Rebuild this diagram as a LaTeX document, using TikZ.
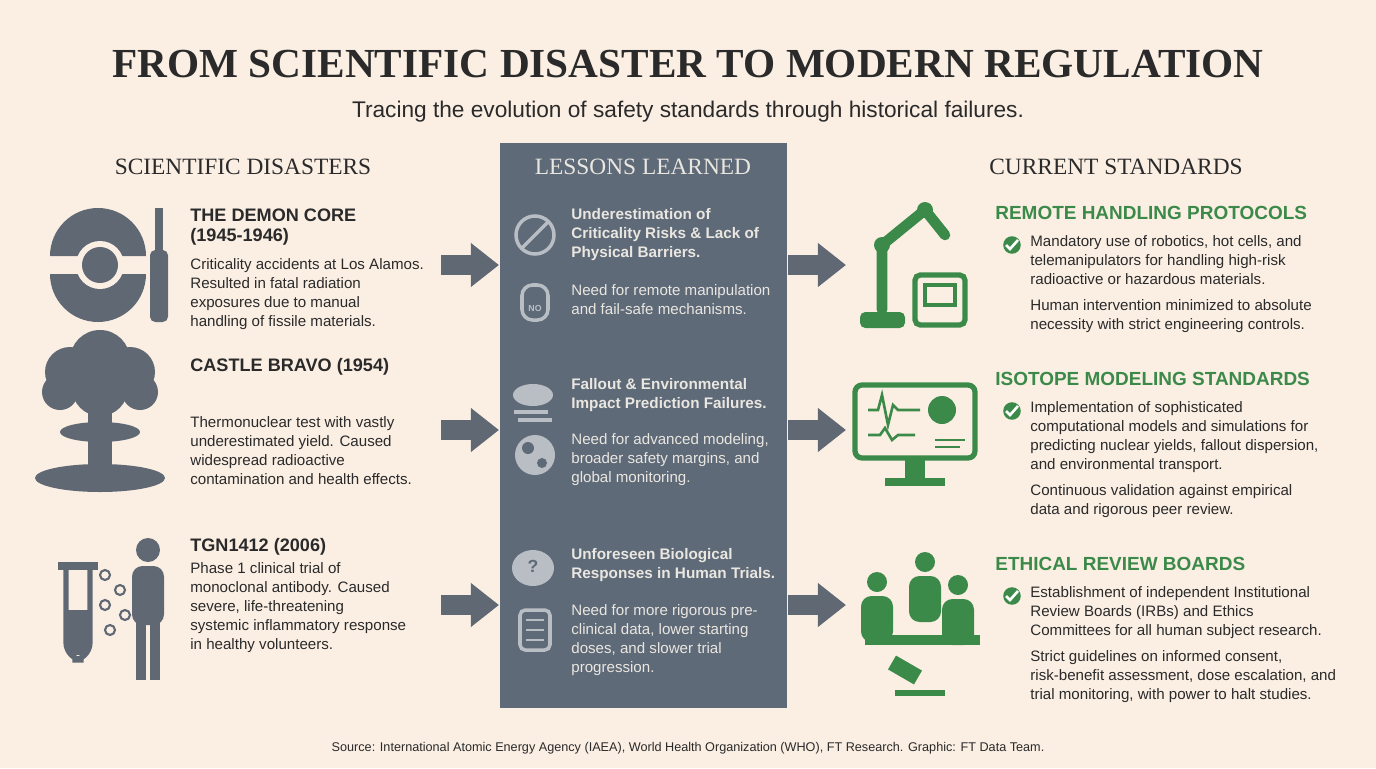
\documentclass[tikz,border=0pt]{standalone}
\usepackage{fontspec}
\setmainfont{Liberation Sans}
\newfontfamily\headfont{Liberation Serif}
\usetikzlibrary{arrows.meta,positioning}
\definecolor{bg}{HTML}{FBEFE4}
\definecolor{iconGrey}{HTML}{5F6873}
\definecolor{panelGrey}{HTML}{5E6A78}
\definecolor{panelText}{HTML}{EAE6E0}
\definecolor{iconLight}{HTML}{B9BEC4}
\definecolor{stdGreen}{HTML}{3C8A4A}
\definecolor{ink}{HTML}{2A2A2A}
\tikzset{
	head/.style = {font = \headfont\fontsize{13.3}{15}\selectfont, text = ink},
	entry title/.style = {anchor = north west, font = \bfseries\fontsize{10.3}{11.2}\selectfont, text = ink, align = left, inner sep = 0},
	entry body/.style = {anchor = north west, font = \fontsize{8.6}{10.9}\selectfont, text = ink, align = left, inner sep = 0},
	lesson title/.style = {entry title, text = panelText, font = \bfseries\fontsize{8.7}{10.9}\selectfont},
	lesson body/.style = {entry body, text = panelText},
	std title/.style = {entry title, text = stdGreen, font = \bfseries\fontsize{10.8}{12}\selectfont},
	flow/.style = {line width = 11pt, draw = iconGrey, -{Triangle[length = 16pt, width = 24pt]}},
	check/.style = {circle, fill = stdGreen, minimum size = 10pt, inner sep = 0}
}
\begin{document}
\begin{tikzpicture}[x = 0.02cm, y = -0.02cm]
	\fill [bg] (0, 0) rectangle (1376, 768);
	\useasboundingbox (0, 0) rectangle (1376, 768);

	% title
	\node (title) at (688, 64) {\headfont\bfseries\fontsize{23.5}{26}\selectfont\color{ink}FROM SCIENTIFIC DISASTER TO MODERN REGULATION};
	\node (subtitle) at (688, 112) {\fontsize{12.9}{14}\selectfont\color{ink}Tracing the evolution of safety standards through historical failures.};

	% lessons panel
	\fill [panelGrey] (500, 143) rectangle (787, 708);
	\node [head] (hLeft) at (243, 167) {SCIENTIFIC DISASTERS};
	\node [head, text = panelText] (hMid) at (643, 167) {LESSONS LEARNED};
	\node [head] (hRight) at (1116, 167) {CURRENT STANDARDS};

	% disasters
	\node [entry title] (d1) at (190, 209) {THE DEMON CORE\\(1945-1946)};
	\node [entry body] (d1b) at (190, 258) {Criticality accidents at Los Alamos.\\Resulted in fatal radiation\\exposures due to manual\\handling of fissile materials.};
	\node [entry title] (d2) at (190, 358) {CASTLE BRAVO (1954)};
	\node [entry body] (d2b) at (190, 416) {Thermonuclear test with vastly\\underestimated yield. Caused\\widespread radioactive\\contamination and health effects.};
	\node [entry title] (d3) at (190, 538) {TGN1412 (2006)};
	\node [entry body] (d3b) at (190, 562) {Phase 1 clinical trial of\\monoclonal antibody. Caused\\severe, life-threatening\\systemic inflammatory response\\in healthy volunteers.};

	% lessons
	\node [lesson title] (l1) at (571, 208) {Underestimation of\\Criticality Risks \& Lack of\\Physical Barriers.};
	\node [lesson body] (l1b) at (571, 284) {Need for remote manipulation\\and fail-safe mechanisms.};
	\node [lesson title] (l2) at (571, 378) {Fallout \& Environmental\\Impact Prediction Failures.};
	\node [lesson body] (l2b) at (571, 433) {Need for advanced modeling,\\broader safety margins, and\\global monitoring.};
	\node [lesson title] (l3) at (571, 548) {Unforeseen Biological\\Responses in Human Trials.};
	\node [lesson body] (l3b) at (571, 604) {Need for more rigorous pre-\\clinical data, lower starting\\doses, and slower trial\\progression.};

	% standards
	\node [std title] (s1) at (995, 206) {REMOTE HANDLING PROTOCOLS};
	\node [entry body] (s1b) at (1030, 235) {Mandatory use of robotics, hot cells, and\\telemanipulators for handling high-risk\\radioactive or hazardous materials.};
	\node [entry body] (s1c) at (1030, 299) {Human intervention minimized to absolute\\necessity with strict engineering controls.};
	\node [std title] (s2) at (995, 372) {ISOTOPE MODELING STANDARDS};
	\node [entry body] (s2b) at (1030, 401) {Implementation of sophisticated\\computational models and simulations for\\predicting nuclear yields, fallout dispersion,\\and environmental transport.};
	\node [entry body] (s2c) at (1030, 484) {Continuous validation against empirical\\data and rigorous peer review.};
	\node [std title] (s3) at (995, 557) {ETHICAL REVIEW BOARDS};
	\node [entry body] (s3b) at (1030, 586) {Establishment of independent Institutional\\Review Boards (IRBs) and Ethics\\Committees for all human subject research.};
	\node [entry body] (s3c) at (1030, 650) {Strict guidelines on informed consent,\\risk-benefit assessment, dose escalation, and\\trial monitoring, with power to halt studies.};
	\foreach \i/\y in {1/245, 2/411, 3/596}{
		\node [check] (ck\i) at (1012, \y) {};
		\draw [white, line width = 1.5pt] (1006, \y) -- (1010, \y+4) -- (1018, \y-5);
	}

	% flow arrows
	\foreach \i/\y in {1/265, 2/430, 3/605}{
		\coordinate (la\i) at (441, \y);
		\coordinate (lb\i) at (499, \y);
		\coordinate (ra\i) at (788, \y);
		\coordinate (rb\i) at (846, \y);
		\draw [flow] (la\i) -- (lb\i);
		\draw [flow] (ra\i) -- (rb\i);
	}

	% disaster icons
	\fill [iconGrey] (50, 256) arc (180:360:48) -- cycle;
	\fill [iconGrey] (50, 274) arc (180:0:48) -- cycle;
	\fill [bg] (100, 265) circle (24);
	\fill [iconGrey] (100, 265) circle (18);
	\fill [iconGrey] (155, 208) rectangle (163, 250);
	\fill [iconGrey, rounded corners = 3] (150, 250) rectangle (168, 322);
	\foreach \cx/\cy/\r in {70/372/25, 100/360/30, 130/372/25, 60/392/18, 140/392/18, 100/388/28}
		\fill [iconGrey] (\cx, \cy) circle (\r);
	\fill [iconGrey] (88, 405) rectangle (112, 470);
	\fill [iconGrey] (100, 432) ellipse (40 and 10);
	\fill [iconGrey] (100, 478) ellipse (65 and 14);
	\draw [iconGrey, line width = 3pt, rounded corners = 10] (66, 568) -- (66, 660) -- (90, 660) -- (90, 568);
	\fill [iconGrey] (58, 562) rectangle (98, 570);
	\fill [iconGrey] (68, 610) rectangle (88, 655);
	\foreach \cx/\cy in {105/575, 120/590, 105/605, 125/615, 110/630}
		\draw [iconGrey, fill = bg, line width = 1.2pt] (\cx, \cy) circle (5);
	\fill [iconGrey] (148, 550) circle (12);
	\fill [iconGrey, rounded corners = 6] (132, 566) rectangle (164, 625);
	\fill [iconGrey] (136, 620) rectangle (146, 680);
	\fill [iconGrey] (150, 620) rectangle (160, 680);

	% lesson icons
	\draw [iconLight, line width = 2pt] (535, 235) circle (19);
	\draw [iconLight, line width = 2pt] (522, 248) -- (548, 222);
	\draw [iconLight, line width = 2pt, rounded corners = 6] (522, 285) rectangle (548, 320);
	\node [font = \bfseries\tiny, text = iconLight] (noSign) at (535, 308) {NO};
	\fill [iconLight] (533, 395) ellipse (20 and 11);
	\draw [iconLight, line width = 2pt] (514, 412) -- (548, 412) (518, 420) -- (552, 420);
	\fill [iconLight] (535, 455) circle (20);
	\fill [panelGrey] (528, 448) circle (6) (542, 463) circle (5);
	\fill [iconLight] (533, 568) ellipse (21 and 18);
	\node [font = \bfseries, text = panelGrey] (quest) at (533, 566) {?};
	\draw [iconLight, line width = 2pt, rounded corners = 3] (520, 610) rectangle (550, 650);
	\foreach \y in {620, 630, 640}
		\draw [iconLight, line width = 1.5pt] (526, \y) -- (544, \y);

	% standard icons
	\fill [stdGreen, rounded corners = 3] (860, 312) rectangle (905, 328);
	\draw [stdGreen, line width = 6pt, line cap = round] (882, 310) -- (882, 245) -- (925, 210) -- (945, 235);
	\fill [stdGreen] (882, 245) circle (8) (925, 210) circle (8);
	\draw [stdGreen, line width = 3pt, fill = bg, rounded corners = 3] (915, 275) rectangle (965, 325);
	\draw [stdGreen, line width = 2pt] (925, 285) rectangle (955, 305);
	\draw [stdGreen, line width = 3pt, fill = bg, rounded corners = 4] (855, 385) rectangle (975, 458);
	\fill [stdGreen] (905, 458) rectangle (925, 480);
	\fill [stdGreen] (885, 478) rectangle (945, 486);
	\draw [stdGreen, line width = 1.5pt] (868, 410) -- (878, 410) -- (882, 395) -- (888, 425) -- (893, 405) -- (898, 410) -- (920, 410);
	\draw [stdGreen, line width = 1.5pt] (868, 435) -- (880, 435) -- (885, 428) -- (892, 440) -- (898, 435) -- (915, 435);
	\fill [stdGreen] (942, 410) circle (14);
	\draw [stdGreen, line width = 1.5pt] (935, 440) -- (965, 440) (935, 447) -- (960, 447);
	\foreach \cx/\cy in {877/582, 925/562, 958/585}{
		\fill [stdGreen] (\cx, \cy) circle (10);
		\fill [stdGreen, rounded corners = 6] (\cx-16, \cy+14) rectangle (\cx+16, \cy+60);
	}
	\fill [stdGreen] (865, 635) rectangle (980, 645);
	\fill [stdGreen, rotate around = {-30:(905, 670)}] (890, 662) rectangle (920, 678);
	\fill [stdGreen] (895, 690) rectangle (945, 696);

	% source
	\node [font = \fontsize{7.2}{9}\selectfont, text = ink] (source) at (688, 748) {Source: International Atomic Energy Agency (IAEA), World Health Organization (WHO), FT Research. Graphic: FT Data Team.};
\end{tikzpicture}
\end{document}
